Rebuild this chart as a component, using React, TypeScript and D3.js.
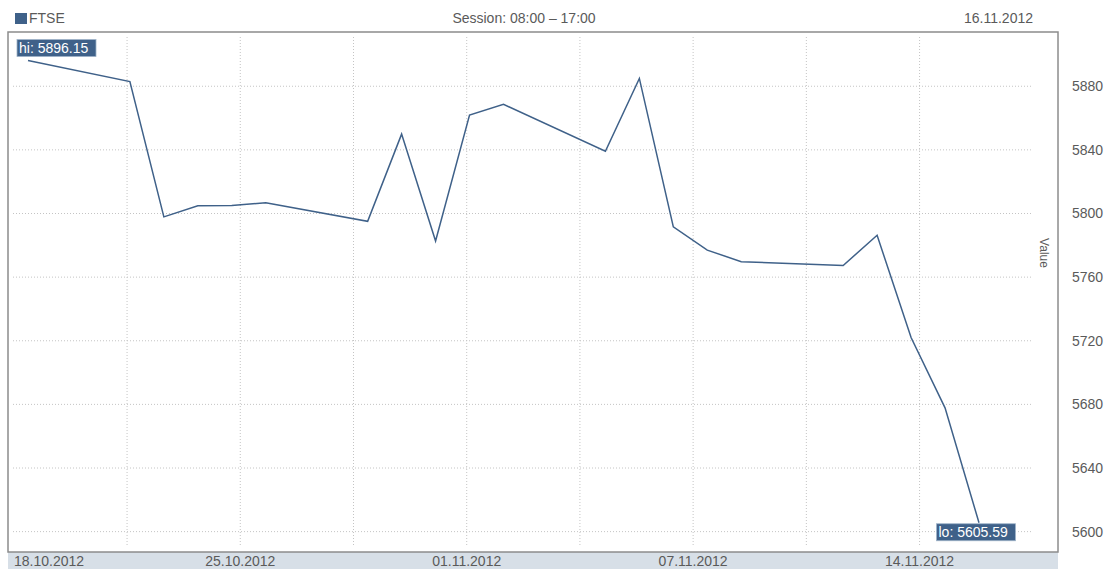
import * as React from "react";
import { scaleLinear, scaleTime, line, timeParse } from "d3";

const parse = timeParse("%Y-%m-%dT%H:%M");

// FTSE daily closes
const dates = [
    "2012-10-19", "2012-10-22", "2012-10-23", "2012-10-24", "2012-10-25", "2012-10-26",
    "2012-10-29", "2012-10-30", "2012-10-31", "2012-11-01", "2012-11-02",
    "2012-11-05", "2012-11-06", "2012-11-07", "2012-11-08", "2012-11-09",
    "2012-11-12", "2012-11-13", "2012-11-14", "2012-11-15", "2012-11-16"
];
const values = [
    5896.15, 5882.9, 5797.9, 5804.8, 5805.1, 5806.7,
    5795.1, 5849.9, 5782.7, 5861.9, 5868.6,
    5839.1, 5884.9, 5791.6, 5777.0, 5769.7,
    5767.3, 5786.3, 5722.0, 5677.8, 5605.59
];

const yTicks = [5600, 5640, 5680, 5720, 5760, 5800, 5840, 5880];
const xGrid = [
    "2012-10-21T22:00", "2012-10-25T06:00", "2012-10-28T14:00", "2012-10-31T22:00",
    "2012-11-04T06:00", "2012-11-07T14:00", "2012-11-10T22:00", "2012-11-14T06:00"
];
const xLabels = ["", "25.10.2012", "", "01.11.2012", "", "07.11.2012", "", "14.11.2012"];
const startLabel = "18.10.2012";

const title = "FTSE";
const session = "Session: 08:00 \u2013 17:00";
const dateLabel = "16.11.2012";

const font = "'Liberation Sans', Arial, sans-serif";
const textColor = "#5a5a5a";
const lineColor = "#3f6189";

const App: React.FC = () => {
    const width = 1110, height = 569;
    const frame = {left: 8, right: 1058, top: 32, bottom: 552};
    const inner = {left: 13, right: 1033, top: 37, bottom: 547};

    const data = dates.map((d, i) => ({date: parse(d + "T00:00") as Date, value: values[i]}));

    const x = scaleTime()
        .domain([data[0].date, data[data.length - 1].date])
        .range([28, 979]);
    const y = scaleLinear().domain([5587.2, 5914.1]).range([frame.bottom, frame.top]);

    const path = line<{date: Date, value: number}>()
        .x(d => x(d.date))
        .y(d => y(d.value))(data) as string;

    const hi = data.reduce((a, b) => (b.value > a.value ? b : a));
    const lo = data.reduce((a, b) => (b.value < a.value ? b : a));
    const boxW = 79, boxH = 17;

    return (
        <svg width={width} height={height} style={{position: "absolute", left: 0, top: 0}} fontFamily={font}>
            <rect x={0} y={0} width={width} height={height} fill="#fff"/>
            {/* header */}
            <rect x={15} y={13} width={12} height={11} fill={lineColor}/>
            <text x={29} y={23} fontSize={14} fill={textColor}>{title}</text>
            <text x={524} y={23} fontSize={14} fill={textColor} textAnchor="middle">{session}</text>
            <text x={1033} y={23} fontSize={14} fill={textColor} textAnchor="end">{dateLabel}</text>

            {/* x band */}
            <rect x={frame.left} y={frame.bottom} width={frame.right - frame.left} height={height - frame.bottom} fill="#d7dfe7"/>

            {/* grid */}
            {yTicks.map(t => (
                <line key={"h" + t} x1={inner.left} x2={inner.right} y1={y(t)} y2={y(t)}
                      stroke="#c4c4c4" strokeDasharray="1,2"/>
            ))}
            {xGrid.map(g => {
                const gx = x(parse(g) as Date);
                return <line key={"v" + g} x1={gx} x2={gx} y1={inner.top} y2={inner.bottom}
                             stroke="#c4c4c4" strokeDasharray="1,2"/>;
            })}

            {/* frame */}
            <rect x={frame.left} y={frame.top} width={frame.right - frame.left} height={frame.bottom - frame.top}
                  fill="none" stroke="#8c8c8c" strokeWidth={1.5}/>

            {/* line */}
            <path d={path} fill="none" stroke={lineColor} strokeWidth={1.5}/>

            {/* hi / lo */}
            <rect x={x(hi.date) - 11} y={y(hi.value) - 21} width={boxW} height={boxH} fill={lineColor} stroke="#9fb3c9" strokeWidth={0.8}/>
            <text x={x(hi.date) - 9} y={y(hi.value) - 8} fontSize={14} fill="#fff">{"hi: " + hi.value.toFixed(2)}</text>
            <rect x={x(lo.date) - boxW / 2 - 3} y={y(lo.value) + 1} width={boxW} height={boxH} fill={lineColor} stroke="#9fb3c9" strokeWidth={0.8}/>
            <text x={x(lo.date) - boxW / 2 - 1} y={y(lo.value) + 14} fontSize={14} fill="#fff">{"lo: " + lo.value.toFixed(2)}</text>

            {/* y labels */}
            {yTicks.map(t => (
                <text key={"yl" + t} x={1072} y={y(t) + 5} fontSize={14} fill={textColor}>{t}</text>
            ))}
            <text transform={`translate(1040,253) rotate(90)`} fontSize={12} fill={textColor} textAnchor="middle">Value</text>

            {/* x labels */}
            <text x={14} y={566} fontSize={14} fill={textColor}>{startLabel}</text>
            {xGrid.map((g, i) => xLabels[i] ? (
                <text key={"xl" + g} x={x(parse(g) as Date)} y={566} fontSize={14} fill={textColor} textAnchor="middle">{xLabels[i]}</text>
            ) : null)}
        </svg>
    );
};

export default App;
